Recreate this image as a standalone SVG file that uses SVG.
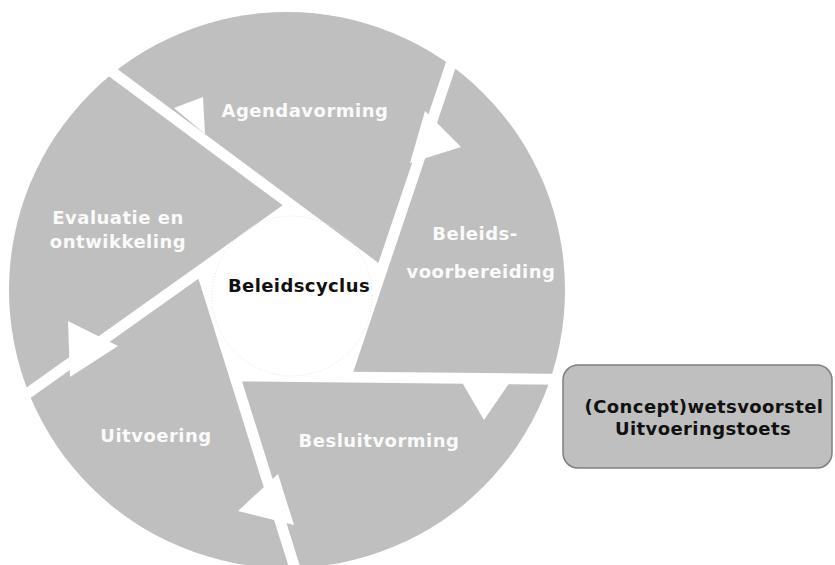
<svg xmlns="http://www.w3.org/2000/svg" width="835" height="565" viewBox="0 0 835 565">
  <style>
    .seg { fill: #bfbfbf; }
    .lbl { font-family: "DejaVu Sans", Verdana, sans-serif; font-weight: bold; font-size: 18px; fill: #fafafa; text-anchor: middle; letter-spacing: 0.5px; }
    .dark { font-family: "DejaVu Sans", Verdana, sans-serif; font-weight: bold; font-size: 18px; fill: #111111; text-anchor: middle; letter-spacing: 0.4px; }
    .arrow { fill: #ffffff; }
  </style>
  <defs>
    <clipPath id="disc"><circle cx="287" cy="290" r="278"/></clipPath>
    <path id="wedge" d="M282.72,205.36 L-198.96,-152.36 L-206.3,552.9 Z"/>
  </defs>
  <rect x="0" y="0" width="835" height="565" fill="#ffffff"/>

  <g clip-path="url(#disc)">
    <g id="agendavorming">
      <use href="#wedge" class="seg" transform="rotate(72 291 300)"/>
      <text class="lbl" x="305" y="117">Agendavorming</text>
    </g>
    <g id="beleidsvoorbereiding">
      <use href="#wedge" class="seg" transform="rotate(144 291 300)"/>
      <text class="lbl" x="475" y="240">Beleids-</text>
      <text class="lbl" x="481" y="278">voorbereiding</text>
    </g>
    <g id="besluitvorming">
      <use href="#wedge" class="seg" transform="rotate(216 291 300)"/>
      <text class="lbl" x="379" y="447">Besluitvorming</text>
    </g>
    <g id="uitvoering">
      <use href="#wedge" class="seg" transform="rotate(288 291 300)"/>
      <text class="lbl" x="156" y="442">Uitvoering</text>
    </g>
    <g id="evaluatie">
      <use href="#wedge" class="seg"/>
      <text class="lbl" x="118" y="224">Evaluatie en</text>
      <text class="lbl" x="118" y="248">ontwikkeling</text>
    </g>
  </g>

  <g id="connectors">
    <polygon class="arrow" points="174,108 205,134 203,97"/>
    <polygon class="arrow" points="425,111 410,163 461,147"/>
    <polygon class="arrow" points="460,379 512,379 484,420"/>
    <polygon class="arrow" points="278,474 294,525 238,511"/>
    <polygon class="arrow" points="118,346 70,377 68,321"/>
  </g>

  <g id="center">
    <circle cx="292" cy="296" r="80" fill="none" stroke="#e4e4e4" stroke-width="1" stroke-dasharray="1 2"/>
    <text class="dark" x="299" y="292">Beleidscyclus</text>
  </g>

  <g id="wetsvoorstel">
    <rect x="563" y="365" width="269" height="103" rx="15" ry="15" fill="#bfbfbf" stroke="#7f7f7f" stroke-width="1.5"/>
    <text class="dark" x="704" y="413">(Concept)wetsvoorstel</text>
    <text class="dark" x="703" y="435">Uitvoeringstoets</text>
  </g>
</svg>
